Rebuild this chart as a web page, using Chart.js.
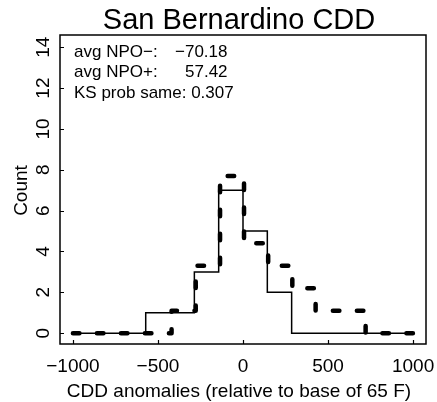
<!DOCTYPE html>
<html>
<head>
<meta charset="utf-8">
<script src="https://cdn.jsdelivr.net/npm/chart.js@4.4.1/dist/chart.umd.min.js"></script>
<style>
  html, body { margin: 0; padding: 0; background: #fff; }
  canvas { display: block; }
</style>
</head>
<body>
<canvas id="histo" width="437" height="402"></canvas>
<script>
// bin edges and counts, NPO- (solid) and NPO+ (dashed, scaled)
var negEdges = [-1000, -572, -429, -286, -143, 0, 143, 286, 1000];
var negCounts = [0, 1, 1, 3, 7, 5, 2, 0];
var posEdges = [-1000, -420, -278, -135, 6, 148, 290, 427, 574, 721, 1000];
var posCounts = [0, 1.1, 3.3, 7.7, 4.4, 3.3, 2.2, 1.1, 1.1, 0];

var xTicks = [-1000, -500, 0, 500, 1000];
var yTicks = [0, 2, 4, 6, 8, 10, 12, 14];

var titleText = 'San Bernardino CDD';
var xLabel = 'CDD anomalies (relative to base of 65 F)';
var yLabel = 'Count';
var statLabels = ['avg NPO\u2212:', 'avg NPO+:', 'KS prob same: 0.307'];
var statValues = ['\u221270.18', '57.42', ''];

var FONT = '"Liberation Sans", Arial, Helvetica, sans-serif';

function fmt(v) {
  return v < 0 ? '\u2212' + Math.abs(v) : String(v);
}

// step points: each edge carries the count of the bin to its right
function steps(edges, counts) {
  return edges.map(function (x, i) {
    return { x: x, y: i < counts.length ? counts[i] : 0 };
  });
}

// R style box, inward ticks and text
var rAxes = {
  id: 'rAxes',
  afterDraw: function (chart) {
    var ctx = chart.ctx;
    var a = chart.chartArea;
    var xs = chart.scales.x;
    var ys = chart.scales.y;
    var cx = (a.left + a.right) / 2;

    ctx.save();
    ctx.strokeStyle = '#000';
    ctx.fillStyle = '#000';
    ctx.lineWidth = 1.5;
    ctx.strokeRect(a.left, a.top, a.right - a.left, a.bottom - a.top);

    ctx.lineWidth = 1.2;
    ctx.beginPath();
    xTicks.forEach(function (t) {
      var px = Math.round(xs.getPixelForValue(t)) + 0.5;
      ctx.moveTo(px, a.bottom);
      ctx.lineTo(px, a.bottom - 4);
    });
    yTicks.forEach(function (t) {
      var py = Math.round(ys.getPixelForValue(t)) + 0.5;
      ctx.moveTo(a.left, py);
      ctx.lineTo(a.left + 4, py);
    });
    ctx.stroke();

    ctx.font = '19px ' + FONT;
    ctx.textAlign = 'center';
    ctx.textBaseline = 'alphabetic';
    xTicks.forEach(function (t) {
      ctx.fillText(fmt(t), xs.getPixelForValue(t), a.bottom + 28);
    });
    ctx.fillText(xLabel, cx - 4, a.bottom + 53);

    yTicks.forEach(function (t) {
      ctx.save();
      ctx.translate(a.left - 11, ys.getPixelForValue(t));
      ctx.rotate(-Math.PI / 2);
      ctx.fillText(String(t), 0, 0);
      ctx.restore();
    });
    ctx.save();
    ctx.translate(a.left - 33, (a.top + a.bottom) / 2 + 1);
    ctx.rotate(-Math.PI / 2);
    ctx.fillText(yLabel, 0, 0);
    ctx.restore();

    ctx.font = '29px ' + FONT;
    ctx.fillText(titleText, cx - 4, a.top - 6);

    ctx.font = '17px ' + FONT;
    ctx.textAlign = 'left';
    var valX = [a.left + 115, a.left + 125, 0];
    statLabels.forEach(function (s, i) {
      var by = a.top + 22 + i * 20.4;
      ctx.fillText(s, a.left + 14, by);
      if (statValues[i]) ctx.fillText(statValues[i], valX[i], by);
    });
    ctx.restore();
  }
};

var ctx = document.getElementById('histo');
var myChart = new Chart(ctx, {
  type: 'line',
  data: {
    datasets: [
      {
        label: 'NPO-',
        data: steps(negEdges, negCounts),
        stepped: true,
        borderColor: '#000',
        borderWidth: 1.5,
        pointRadius: 0,
        fill: false
      },
      {
        label: 'NPO+',
        data: steps(posEdges, posCounts),
        stepped: true,
        borderColor: '#000',
        borderWidth: 4.5,
        borderDash: [6.5, 17.5],
        borderCapStyle: 'round',
        borderJoinStyle: 'round',
        pointRadius: 0,
        fill: false
      }
    ]
  },
  options: {
    responsive: false,
    animation: false,
    layout: {
      padding: { left: 60, top: 35, right: 11, bottom: 58 }
    },
    plugins: {
      legend: { display: false },
      tooltip: { enabled: false },
      title: { display: false }
    },
    scales: {
      x: { type: 'linear', display: false, min: -1076, max: 1076 },
      y: { type: 'linear', display: false, min: -0.53, max: 14.6 }
    }
  },
  plugins: [rAxes]
});
</script>
</body>
</html>
